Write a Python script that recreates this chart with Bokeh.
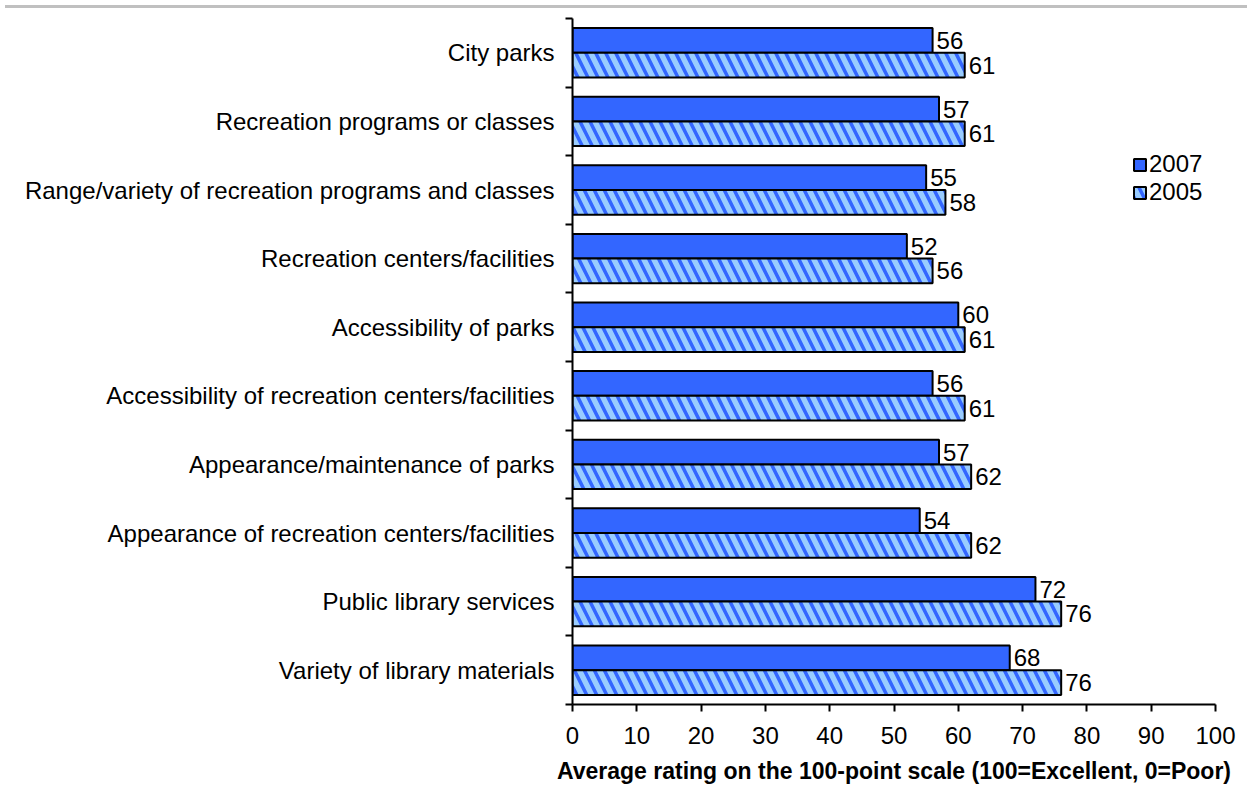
from bokeh.plotting import figure
from bokeh.models import Range1d, FixedTicker, Div, ColumnDataSource, Legend, LegendItem
from bokeh.layouts import column
from bokeh.core.properties import value
from bokeh.embed import file_html
from bokeh.resources import INLINE

categories = [
    "City parks",
    "Recreation programs or classes",
    "Range/variety of recreation programs and classes",
    "Recreation centers/facilities",
    "Accessibility of parks",
    "Accessibility of recreation centers/facilities",
    "Appearance/maintenance of parks",
    "Appearance of recreation centers/facilities",
    "Public library services",
    "Variety of library materials",
]
values_2007 = [56, 57, 55, 52, 60, 56, 57, 54, 72, 68]
values_2005 = [61, 61, 58, 56, 61, 61, 62, 62, 76, 76]
series_names = ["2007", "2005"]
x_ticks = [0, 10, 20, 30, 40, 50, 60, 70, 80, 90, 100]
x_title = "Average rating on the 100-point scale (100=Excellent, 0=Poor)"

FONT = "Liberation Sans"
n = len(categories)
centers = [n - i - 0.5 for i in range(n)]
boundaries = list(range(n + 1))
bar_h = 0.36
off = 0.18

y07 = [c + off for c in centers]
y05 = [c - off for c in centers]

src07 = ColumnDataSource(dict(y=y07, v=values_2007, t=[str(v) for v in values_2007]))
src05 = ColumnDataSource(dict(y=y05, v=values_2005, t=[str(v) for v in values_2005]))

p = figure(width=1240, height=779, output_backend="svg", toolbar_location=None,
           x_range=Range1d(0, 100), y_range=Range1d(0, n),
           min_border_left=572, min_border_right=25, min_border_top=5, min_border_bottom=88)
p.outline_line_color = None
p.xgrid.visible = False
p.ygrid.visible = False
p.background_fill_color = "white"
p.border_fill_color = "white"

r07 = p.hbar(y="y", right="v", left=0, height=bar_h, source=src07,
             fill_color="#3366FF", line_color="black", line_width=2)
r05 = p.hbar(y="y", right="v", left=0, height=bar_h, source=src05,
             fill_color="#99CCFF", line_color="black", line_width=2,
             hatch_pattern="\\", hatch_color="#3366FF", hatch_scale=20, hatch_weight=3.5)

for src in (src07, src05):
    p.text(x="v", y="y", text="t", source=src, x_offset=4, text_baseline="middle",
           text_align="left", text_font=value(FONT), text_font_size="24px", text_color="black")

# x axis
xa = p.xaxis[0]
xa.ticker = FixedTicker(ticks=x_ticks)
xa.axis_line_width = 2
xa.major_tick_line_width = 2
xa.major_tick_out = 7
xa.major_tick_in = 0
xa.minor_tick_line_color = None
xa.major_label_text_font = FONT
xa.major_label_text_font_size = "24px"
xa.major_label_text_color = "black"
xa.major_label_standoff = 15
xa.axis_label = x_title
xa.axis_label_text_font = FONT
xa.axis_label_text_font_size = "23px"
xa.axis_label_text_font_style = "bold"
xa.axis_label_text_color = "black"
xa.axis_label_standoff = 11

# y axis
ya = p.yaxis[0]
ya.ticker = FixedTicker(ticks=centers, minor_ticks=boundaries)
ya.major_label_overrides = {c: lab for c, lab in zip(centers, categories)}
ya.axis_line_width = 2
ya.major_tick_out = 0
ya.major_tick_in = 0
ya.minor_tick_out = 7
ya.minor_tick_in = 0
ya.minor_tick_line_width = 2
ya.minor_tick_line_color = "black"
ya.major_label_text_font = FONT
ya.major_label_text_font_size = "24px"
ya.major_label_text_color = "black"
ya.major_label_standoff = 11

for name, rend, loc in ((series_names[0], r07, (560, 526)), (series_names[1], r05, (560, 498))):
    lg = Legend(items=[LegendItem(label=name, renderers=[rend])], location=loc)
    lg.background_fill_alpha = 0
    lg.border_line_alpha = 0
    lg.padding = 0
    lg.margin = 0
    lg.spacing = 0
    lg.glyph_width = 15
    lg.glyph_height = 15
    lg.label_height = 21
    lg.label_standoff = 2
    lg.label_text_font = FONT
    lg.label_text_font_size = "24px"
    lg.label_text_color = "black"
    p.add_layout(lg, "center")

line = Div(width=1247, height=3, styles={"background-color": "#C0C0C0"})
layout = column(line, p, spacing=0)

open("out.html", "w").write(file_html(layout, INLINE))
